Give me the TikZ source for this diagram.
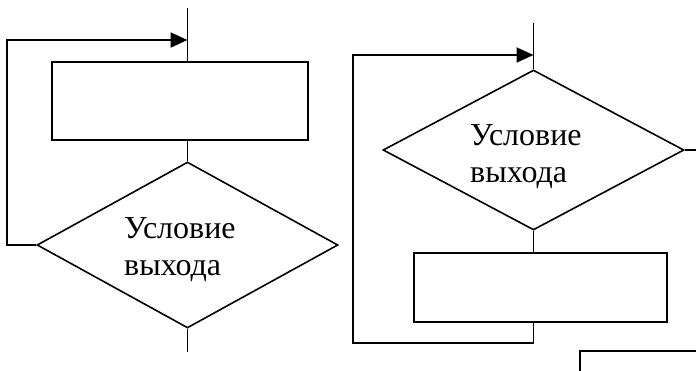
\documentclass[tikz,border=0pt]{standalone}
\usepackage{fontspec}
\setmainfont{Liberation Serif}
\usetikzlibrary{shapes.geometric,arrows.meta}
\begin{document}
\begin{tikzpicture}[x=1pt,y=-1pt,
  shp/.style={draw,line width=1.6pt,inner sep=0pt},
  blockbox/.style={shp,rectangle},
  cond/.style={shp,diamond},
  wire/.style={line width=1.9pt},
  flow/.style={wire,-{Triangle[length=17pt,width=15pt]}},
  condtext/.style={anchor=base west,align=left,inner sep=0pt,
    font=\fontsize{32}{37}\selectfont}]
\useasboundingbox (0,0) rectangle (696,370);
\clip (0,0) rectangle (696,370);

% ---- loop with post-condition ----
\node[blockbox,minimum width=256pt,minimum height=78pt] (lbody) at (180,101) {};
\node[cond,minimum width=301pt,minimum height=166pt] (lcheck) at (187.5,245) {};
\node[condtext] (ltext) at (124,275) {Условие\\выхода};
\coordinate (lin) at (187.5,8);
\coordinate (ljoin) at (187.5,40);
\coordinate (lout) at (187.5,352);
\coordinate (lback) at (7,245);
\draw[wire] (lin) -- (lbody.north -| lin);
\draw[wire] (lbody.south -| lin) -- (lcheck.north);
\draw[wire] (lcheck.south) -- (lout);
\draw[flow] (lcheck.west) -- (lback) |- (ljoin);

% ---- loop with pre-condition ----
\node[cond,minimum width=301pt,minimum height=160pt] (rcheck) at (533.5,150) {};
\node[blockbox,minimum width=253pt,minimum height=69pt] (rbody) at (540.5,287.5) {};
\node[condtext] (rtext) at (470,182) {Условие\\выхода};
\coordinate (rin) at (533.5,23);
\coordinate (rjoin) at (533.5,55);
\coordinate (rexit) at (700,150);
\coordinate (rback) at (533.5,343);
\draw[wire] (rin) -- (rcheck.north);
\draw[wire] (rcheck.south) -- (rbody.north -| rin);
\draw[wire] (rcheck.east) -- (rexit);
\draw[flow] (rbody.south -| rin) -- (rback) -| (353,100) |- (rjoin);

% ---- next block ----
\node[blockbox,minimum width=200pt,minimum height=80pt] (next) at (680,391) {};
\end{tikzpicture}
\end{document}
